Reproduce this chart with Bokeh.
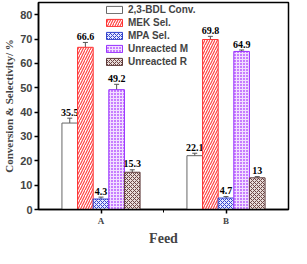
from bokeh.plotting import figure
from bokeh.models import Range1d, FixedTicker, ColumnDataSource, Whisker, TeeHead, Legend, LegendItem
from bokeh.core.properties import value
from bokeh.embed import file_html
from bokeh.resources import INLINE

groups = ["A", "B"]
series = ["2,3-BDL Conv.", "MEK Sel.", "MPA Sel.", "Unreacted M", "Unreacted R"]
vals = {
    "2,3-BDL Conv.": [35.5, 22.1],
    "MEK Sel.": [66.6, 69.8],
    "MPA Sel.": [4.3, 4.7],
    "Unreacted M": [49.2, 64.9],
    "Unreacted R": [15.3, 13],
}
errs = {
    "2,3-BDL Conv.": [2.0, 1.0],
    "MEK Sel.": [2.0, 1.3],
    "MPA Sel.": [0.8, 0.6],
    "Unreacted M": [2.2, 0.6],
    "Unreacted R": [1.0, 0.5],
}
labels = {
    "2,3-BDL Conv.": ["35.5", "22.1"],
    "MEK Sel.": ["66.6", "69.8"],
    "MPA Sel.": ["4.3", "4.7"],
    "Unreacted M": ["49.2", "64.9"],
    "Unreacted R": ["15.3", "13"],
}

styles = {
    "2,3-BDL Conv.": dict(fill_color="white", line_color="#666666", hatch_pattern=" ", hatch_color="white"),
    "MEK Sel.": dict(fill_color="white", line_color="#ff3333", hatch_pattern="/", hatch_color="#ff4444", hatch_scale=5, hatch_weight=1.2),
    "MPA Sel.": dict(fill_color="#e6e9ff", line_color="#3344cc", hatch_pattern="x", hatch_color="#3344cc", hatch_scale=4, hatch_weight=1),
    "Unreacted M": dict(fill_color="#c77dff", line_color="#9933ff", hatch_pattern="+", hatch_color="#f2e0ff", hatch_scale=3, hatch_weight=1),
    "Unreacted R": dict(fill_color="#e8dcd8", line_color="#5c3a3a", hatch_pattern="x", hatch_color="#6b4444", hatch_scale=4, hatch_weight=1),
}

p = figure(width=291, height=248, output_backend="svg", toolbar_location=None,
           x_range=Range1d(0.5, 2.5), y_range=Range1d(0, 85),
           min_border_left=30, min_border_right=3, min_border_top=2, min_border_bottom=30)
p.grid.visible = False
p.outline_line_color = "black"
p.outline_line_width = 1.5

width = 0.125
items = []
for i, s in enumerate(series):
    off = (i - 2) * width
    xs = [g + off for g in [1, 2]]
    top = vals[s]
    src = ColumnDataSource(dict(x=xs, top=top, up=[t + e for t, e in zip(top, errs[s])],
                                lo=[t - e for t, e in zip(top, errs[s])],
                                ly=[t + e + 1.0 for t, e in zip(top, errs[s])], lab=labels[s]))
    r = p.vbar(x="x", top="top", width=width, source=src, line_width=1, **styles[s])
    items.append(LegendItem(label=s, renderers=[r]))
    w = Whisker(base="x", upper="up", lower="lo", source=src, line_color="#555555", line_width=1,
                upper_head=TeeHead(size=5, line_color="#555555"), lower_head=TeeHead(size=5, line_color="#555555"))
    p.add_layout(w)
    p.text(x="x", y="ly", text="lab", source=src, text_align="center", text_baseline="bottom",
           text_font=value("Liberation Serif"), text_font_style="bold", text_font_size="10px", text_color="black")

legend = Legend(items=items, location=(66, 142), background_fill_alpha=0, border_line_alpha=0,
                glyph_width=20, glyph_height=9, label_height=9, spacing=2, padding=0, margin=0,
                label_text_font="Liberation Sans", label_text_font_style="bold", label_text_font_size="10px",
                label_standoff=4)
p.add_layout(legend, "center")

p.xaxis.ticker = FixedTicker(ticks=[1, 2], minor_ticks=[1.5])
p.xaxis.major_label_overrides = {1: "A", 2: "B"}
p.xaxis.major_label_text_font = "Liberation Serif"
p.xaxis.major_label_text_font_style = "bold"
p.xaxis.major_label_text_font_size = "9px"
p.xaxis.axis_label = "Feed"
p.xaxis.axis_label_text_font = "Liberation Serif"
p.xaxis.axis_label_text_font_style = "bold"
p.xaxis.axis_label_text_font_size = "14px"
p.xaxis.axis_label_standoff = 2

p.yaxis.ticker = FixedTicker(ticks=list(range(0, 81, 10)), minor_ticks=[])
p.yaxis.major_label_text_font = "Liberation Sans"
p.yaxis.major_label_text_font_style = "bold"
p.yaxis.major_label_text_font_size = "11px"
p.yaxis.axis_label = "Conversion & Selectivity/ %"
p.yaxis.axis_label_text_font = "Liberation Serif"
p.yaxis.axis_label_text_font_style = "bold"
p.yaxis.axis_label_text_font_size = "11px"
p.yaxis.axis_label_standoff = 2

for ax in (p.xaxis, p.yaxis):
    ax.axis_line_width = 1.5
    ax.major_tick_line_width = 1.5
    ax.major_tick_in = 0
    ax.major_tick_out = 4
    ax.minor_tick_in = 0
    ax.minor_tick_out = 3
    ax.major_label_standoff = 2

open("out.html", "w").write(file_html(p, INLINE))
